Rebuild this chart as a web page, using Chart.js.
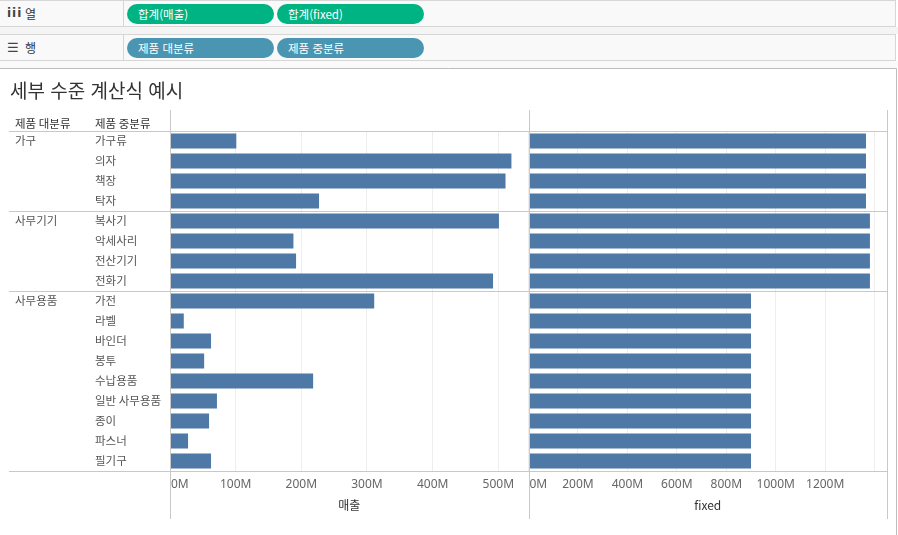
<!DOCTYPE html>
<html lang="ko">
<head>
<meta charset="utf-8">
<script src="https://cdn.jsdelivr.net/npm/chart.js@4.4.1/dist/chart.umd.min.js"></script>
<style>
  html, body { margin: 0; padding: 0; background: #ffffff; }
  body { width: 898px; height: 535px; position: relative; overflow: hidden; font-family: "Noto Sans CJK KR", "Noto Sans", sans-serif; }
  #wrap { position: absolute; left: 0; top: 0; width: 898px; height: 535px; }
  .shelf { position: absolute; left: 0; width: 896px; height: 27px; background: #f9f9f9; border-top: 1px solid #d6d6d6; border-bottom: 1px solid #d6d6d6; border-right: 1px solid #d6d6d6; box-sizing: border-box; }
  .gap { position: absolute; left: 0; width: 898px; background: #f4f4f4; }
  .lab { position: absolute; left: 0; top: 0; width: 124px; height: 100%; border-right: 1px solid #d6d6d6; box-sizing: border-box; color: #333; font-size: 12px; line-height: 25px; }
  .ico { position: absolute; left: 7px; top: 0; font-family: "DejaVu Sans", sans-serif; font-weight: bold; font-size: 12px; color: #444; letter-spacing: 1px; }
  .lab .t { position: absolute; left: 25px; top: 0; }
  .pill { position: absolute; top: 3px; width: 147px; height: 20px; border-radius: 10px; color: #fff; font-size: 11.5px; line-height: 20px; padding-left: 11px; box-sizing: border-box; }
  .g { background: #00b383; }
  .b { background: #4a96b2; }
  #title { position: absolute; left: 10px; top: 76px; height: 28px; line-height: 28px; font-size: 19px; color: #333; }
</style>
</head>
<body>
<div id="wrap"><canvas id="c"></canvas></div>
<div class="gap" style="top:27px;height:7px"></div>
<div class="gap" style="top:61px;height:7px;background:#fafafa"></div>
<div class="shelf" style="top:0">
  <div class="lab"><span class="ico">iii</span><span class="t">열</span></div>
  <div class="pill g" style="left:127px">합계(매출)</div>
  <div class="pill g" style="left:277px">합계(fixed)</div>
</div>
<div class="shelf" style="top:34px">
  <div class="lab"><span class="ico" style="font-weight:normal;font-size:13px">☰</span><span class="t">행</span></div>
  <div class="pill b" style="left:127px">제품 대분류</div>
  <div class="pill b" style="left:277px">제품 중분류</div>
</div>
<div id="title">세부 수준 계산식 예시</div>
<script>
// ---- data ----
const headerLabels = ['제품 대분류', '제품 중분류'];
const groups = ['가구', '사무기기', '사무용품'];
const groupOf = ['가구','가구','가구','가구','사무기기','사무기기','사무기기','사무기기','사무용품','사무용품','사무용품','사무용품','사무용품','사무용품','사무용품','사무용품','사무용품'];
const subCategories = ['가구류','의자','책장','탁자','복사기','악세사리','전산기기','전화기','가전','라벨','바인더','봉투','수납용품','일반 사무용품','종이','파스너','필기구'];
// values in millions (M)
const sales = [101, 520, 511, 227, 501, 188, 192, 492, 311, 21, 62.5, 52, 218, 71.5, 59.5, 27.5, 62.5];
const fixedValues = [1365, 1365, 1365, 1365, 1381, 1381, 1381, 1381, 900, 900, 900, 900, 900, 900, 900, 900, 900];
const salesTicksStep = 100;
const fixedTicksStep = 200;
const axisTitles = ['매출', 'fixed'];

const BAR = '#4e79a7';
const KR = '"Noto Sans CJK KR", "Noto Sans", sans-serif';
const LINE = '#c8c8c8';

const tablePlugin = {
  id: 'tableDeco',
  afterDraw(chart) {
    const ctx = chart.ctx;
    const ca = chart.chartArea;
    const y = chart.scales.y;
    const x1 = chart.scales.x;
    const x2 = chart.scales.x2;
    const r = v => Math.round(v) + 0.5;
    ctx.save();
    // column headers
    ctx.font = '11.5px ' + KR;
    ctx.fillStyle = '#333';
    ctx.textAlign = 'left';
    ctx.textBaseline = 'middle';
    ctx.fillText(headerLabels[0], 15, ca.top - 7);
    ctx.fillText(headerLabels[1], y.left, ca.top - 7);
    // group labels
    ctx.fillStyle = '#555';
    groups.forEach(g => {
      const i = groupOf.indexOf(g);
      ctx.fillText(g, 15, y.getPixelForValue(i));
    });
    // horizontal separators
    ctx.strokeStyle = LINE;
    ctx.lineWidth = 1;
    const hy = [ca.top, ca.bottom];
    for (let i = 1; i < groupOf.length; i++) {
      if (groupOf[i] !== groupOf[i - 1]) {
        hy.push((y.getPixelForValue(i - 1) + y.getPixelForValue(i)) / 2);
      }
    }
    hy.forEach(v => {
      ctx.beginPath(); ctx.moveTo(9, r(v)); ctx.lineTo(ca.right, r(v)); ctx.stroke();
    });
    // vertical pane lines
    [x1.left, x2.left, ca.right].forEach(v => {
      ctx.beginPath(); ctx.moveTo(r(v), ca.top - 21); ctx.lineTo(r(v), ca.bottom + 48); ctx.stroke();
    });
    // '0M' labels, left aligned at pane start
    [x1, x2].forEach(s => {
      let yy = s.top + 6, base = 'top';
      try {
        const items = s.getLabelItems();
        const ref = items.find(it => it.label);
        if (ref) { yy = ref.options.translation[1] + (ref.textOffset || 0); base = ref.options.textBaseline || base; }
      } catch (e) {}
      ctx.font = '12px "Noto Sans", sans-serif';
      ctx.fillStyle = '#666';
      ctx.textAlign = 'left';
      ctx.textBaseline = base;
      ctx.fillText('0M', s.getPixelForValue(0) + 1, yy);
    });
    // panel border
    ctx.strokeStyle = '#bdbdbd';
    ctx.beginPath(); ctx.moveTo(0, 68.5); ctx.lineTo(896.5, 68.5); ctx.lineTo(896.5, 535); ctx.stroke();
    ctx.restore();
  }
};

const xCommon = (max, step, title) => ({
  type: 'linear',
  axis: 'x',
  position: 'bottom',
  stack: 'panes',
  stackWeight: 1,
  min: 0,
  max: max,
  offset: false,
  grid: { color: '#eeeeee', drawTicks: false, lineWidth: 1 },
  border: { display: false },
  ticks: {
    stepSize: step,
    includeBounds: false,
    autoSkip: false,
    maxRotation: 0,
    padding: 6,
    color: '#666',
    font: { family: '"Noto Sans", sans-serif', size: 12 },
    callback: (v) => (v === 0 || v + step > max ? (v === 0 ? '' : (v > 1300 ? '' : v + 'M')) : v + 'M')
  },
  title: {
    display: true,
    text: title,
    color: '#333',
    font: { family: KR, size: 12 },
    padding: { top: 0, bottom: 6 }
  },
  afterFit: (s) => { s.height = 48; }
});

new Chart(document.getElementById('c'), {
  type: 'bar',
  data: {
    labels: subCategories,
    datasets: [
      { label: axisTitles[0], data: sales, xAxisID: 'x', yAxisID: 'y', backgroundColor: BAR, barPercentage: 0.75, categoryPercentage: 1, grouped: false, borderWidth: 0 },
      { label: axisTitles[1], data: fixedValues, xAxisID: 'x2', yAxisID: 'y', backgroundColor: BAR, barPercentage: 0.75, categoryPercentage: 1, grouped: false, borderWidth: 0 }
    ]
  },
  options: {
    indexAxis: 'y',
    responsive: true,
    maintainAspectRatio: false,
    animation: false,
    layout: { padding: { left: 95, right: 11, top: 131, bottom: 16 } },
    plugins: { legend: { display: false }, tooltip: { enabled: false }, title: { display: false } },
    scales: {
      y: {
        type: 'category',
        position: 'left',
        offset: true,
        grid: { display: false },
        border: { display: false },
        ticks: {
          autoSkip: false,
          crossAlign: 'far',
          padding: 0,
          color: '#555',
          font: { family: KR, size: 11.5 }
        },
        afterFit: (s) => { s.width = 75; }
      },
      x: xCommon(546, salesTicksStep, axisTitles[0]),
      x2: xCommon(1450, fixedTicksStep, axisTitles[1])
    }
  },
  plugins: [tablePlugin]
});
</script>
</body>
</html>
